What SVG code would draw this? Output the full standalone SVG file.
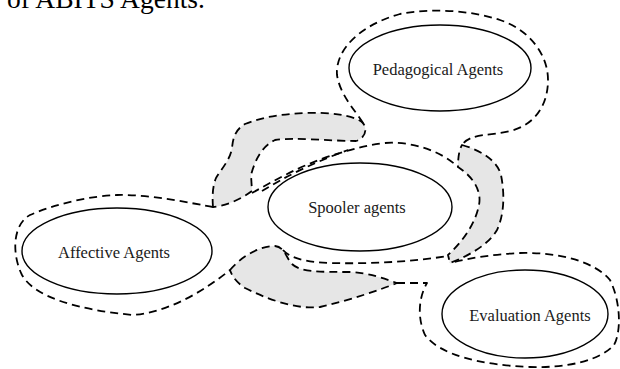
<svg xmlns="http://www.w3.org/2000/svg" width="620" height="369" viewBox="0 0 620 369">
<style>
.bg{fill:#ffffff}
.node ellipse{fill:#ffffff;stroke:#000;stroke-width:1.4}
.node text{font-family:"Liberation Serif","Times New Roman",serif;font-size:16.5px;fill:#1a1a1a;text-anchor:middle}
.dash{fill:none;stroke:#000;stroke-width:1.8;stroke-dasharray:8 5;stroke-linecap:butt;stroke-linejoin:round}
.shade{fill:#e6e6e6;stroke:#000;stroke-width:1.8;stroke-dasharray:8 5;stroke-linejoin:round}
.caption{font-family:"Liberation Serif","Times New Roman",serif;font-size:27.5px;fill:#000}
</style>
<rect class="bg" x="0" y="0" width="620" height="369"/>
<text class="caption" x="7" y="8">of ABITS Agents.</text>
<g id="shaded-regions">
<path class="shade" d="M213,207 C212,195 213,185 216,178 C222,168 230,160 232,148 C233,138 235,130 245,124 C265,116 285,114 305,113 C330,112 352,115 362,122 C368,128 366,138 356,141 C330,141 295,137 275,140 C262,146 255,160 251,175 L252,191 C240,200 225,206 213,207 Z"/>
<path class="shade" d="M462,145 C480,150 497,160 501,175 C505,195 504,215 497,230 C488,245 470,255 450,263 L448,255 C462,242 475,225 479,205 C482,190 472,176 458,167 C458,158 459,150 462,145 Z"/>
<path class="shade" d="M230,270 C240,258 258,246 275,246 C285,247 286,258 292,264 C300,272 320,272 350,272 C370,273 385,279 397,283 C380,290 350,300 320,307 C295,310 265,298 245,288 C236,282 232,276 230,270 Z"/>
</g>
<g id="connectors">
<path class="dash" d="M213,207 C195,204 150,194 117,195 C90,196 55,204 30,215 C12,225 12,255 22,275 C35,298 80,310 133,315 C170,312 205,290 230,270"/>
<path class="dash" d="M363,123 C355,110 340,95 337,75 C335,50 360,25 400,14 C430,8 470,10 500,20 C530,30 548,55 548,80 C548,105 535,125 510,131 C490,136 470,133 462,145"/>
<path class="dash" d="M252,193 C275,180 300,166 330,156 C350,150 365,145 385,143 C410,141 440,150 458,167"/>
<path class="dash" d="M262,191 C285,177 310,164 348,150"/>
<path class="dash" d="M283,250 C290,258 305,262 330,263 C370,264 410,262 448,256"/>
<path class="dash" d="M397,283 L427,283 C420,295 416,315 425,335 C440,355 480,365 530,367 C570,368 600,360 614,345 C622,330 620,300 610,280 C595,262 560,252 520,253 C495,254 470,258 450,263"/>
</g>
<g id="pedagogical" class="node">
<ellipse cx="440" cy="68" rx="91" ry="43"/>
<text x="438" y="75">Pedagogical Agents</text>
</g>
<g id="spooler" class="node">
<ellipse cx="360" cy="207" rx="92" ry="44"/>
<text x="357" y="213">Spooler agents</text>
</g>
<g id="affective" class="node">
<ellipse cx="117" cy="251" rx="95" ry="43"/>
<text x="114" y="258">Affective Agents</text>
</g>
<g id="evaluation" class="node">
<ellipse cx="525" cy="314" rx="83" ry="44"/>
<text x="530" y="321">Evaluation Agents</text>
</g>
</svg>
